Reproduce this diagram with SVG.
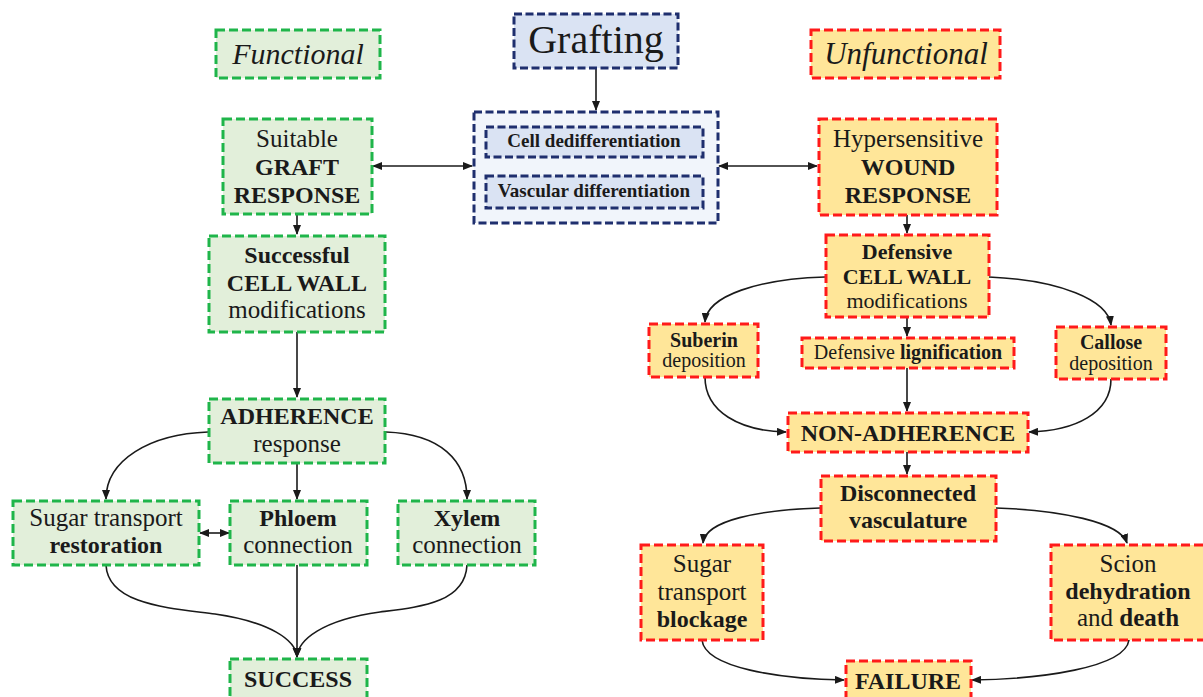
<svg xmlns="http://www.w3.org/2000/svg" width="1203" height="697" viewBox="0 0 1203 697">
<style>
text{font-family:"Liberation Serif","Times New Roman",serif;fill:#1a1a1a;text-anchor:middle}
.b{font-weight:bold}
.g{fill:#e2efda;stroke:#1fb54a;stroke-width:3;stroke-dasharray:9 4}
.r{fill:#ffe699;stroke:#ff1a1a;stroke-width:3;stroke-dasharray:9 4}
.n{fill:#dae3f3;stroke:#1f2f6e;stroke-width:3;stroke-dasharray:8 3.5}
.no{fill:#f1f5fb;stroke:#1f2f6e;stroke-width:3;stroke-dasharray:8 3.5}
.c{fill:none;stroke:#1a1a1a;stroke-width:1.6;marker-end:url(#ah)}
.d{marker-start:url(#ah)}
.t25{font-size:25px}
.t24{font-size:24px}
.t22{font-size:22px}
.t19{font-size:20px}
</style>
<defs>
<marker id="ah" markerUnits="userSpaceOnUse" markerWidth="10" markerHeight="8" refX="9" refY="4" orient="auto-start-reverse">
<path d="M0,0 L10,4 L0,8 Z" fill="#1a1a1a"/>
</marker>
</defs>
<rect width="1203" height="697" fill="#ffffff"/>

<g id="connectors">
<path class="c" d="M596,68 L596,110"/>
<path class="c" d="M596,157 L596,174"/>
<path class="c d" d="M373,166 L472,166"/>
<path class="c d" d="M719,166 L817,166"/>
<path class="c" d="M297,214 L297,234"/>
<path class="c" d="M297,332 L297,397"/>
<path class="c" d="M208,432 C150,434 106,460 106,499"/>
<path class="c" d="M386,432 C440,434 467,460 467,499"/>
<path class="c" d="M297,463 L297,499"/>
<path class="c d" d="M200,533 L229,533"/>
<path class="c" d="M106,565 C108,605 170,608 215,614 C270,622 296,640 297,657"/>
<path class="c" d="M297,565 L297,657"/>
<path class="c" d="M467,565 C465,603 420,607 380,612 C322,620 298,640 297,657"/>
<path class="c" d="M907,215 L907,233"/>
<path class="c" d="M825,277 C760,279 707,295 705,322"/>
<path class="c" d="M989,277 C1060,280 1108,300 1111,325"/>
<path class="c" d="M907,318 L907,336"/>
<path class="c" d="M907,368 L907,411"/>
<path class="c" d="M705,377 C705,412 740,431 786,432"/>
<path class="c" d="M1111,379 C1111,413 1075,431 1029,432"/>
<path class="c" d="M907,452 L907,474"/>
<path class="c" d="M820,508 C760,510 705,520 703,543"/>
<path class="c" d="M996,508 C1060,510 1120,522 1127,543"/>
<path class="c" d="M702,640 C705,668 780,679 844,680"/>
<path class="c" d="M1129,640 C1125,668 1040,679 972,680"/>
</g>

<g id="functional">
<rect class="g" x="216" y="30" width="164" height="48"/>
<text x="298" y="64" font-size="30" font-style="italic">Functional</text>
</g>
<g id="grafting">
<rect class="n" x="514" y="14" width="164" height="54"/>
<text x="596" y="53" font-size="40">Grafting</text>
</g>
<g id="unfunctional">
<rect class="r" x="811" y="30" width="189" height="48"/>
<text x="906" y="64" font-size="31" font-style="italic">Unfunctional</text>
</g>

<g id="graft-process">
<rect class="no" x="474" y="112" width="244" height="111"/>
<g id="cell-dediff">
<rect class="n" x="486" y="127" width="217" height="30"/>
<text class="b" x="594" y="147" font-size="19">Cell dedifferentiation</text>
</g>
<g id="vascular-diff">
<rect class="n" x="486" y="176" width="217" height="32"/>
<text class="b" x="594" y="197" font-size="19">Vascular differentiation</text>
</g>
</g>

<g id="graft-response">
<rect class="g" x="223" y="119" width="149" height="95"/>
<text class="t25" x="297" y="147">Suitable</text>
<text class="t24 b" x="297" y="175">GRAFT</text>
<text class="t24 b" x="297" y="203">RESPONSE</text>
</g>
<g id="wound-response">
<rect class="r" x="819" y="119" width="178" height="96"/>
<text class="t25" x="908" y="147">Hypersensitive</text>
<text class="t24 b" x="908" y="175">WOUND</text>
<text class="t24 b" x="908" y="203">RESPONSE</text>
</g>

<g id="successful-cw">
<rect class="g" x="209" y="236" width="176" height="96"/>
<text class="t24 b" x="297" y="263">Successful</text>
<text class="t24 b" x="297" y="291">CELL WALL</text>
<text class="t25" x="297" y="318">modifications</text>
</g>
<g id="adherence">
<rect class="g" x="209" y="399" width="176" height="64"/>
<text class="t24 b" x="297" y="424">ADHERENCE</text>
<text class="t25" x="297" y="452">response</text>
</g>
<g id="sugar-restoration">
<rect class="g" x="13" y="501" width="186" height="64"/>
<text class="t25" x="106" y="526">Sugar transport</text>
<text class="t24 b" x="106" y="553">restoration</text>
</g>
<g id="phloem">
<rect class="g" x="230" y="501" width="137" height="64"/>
<text class="t24 b" x="298" y="526">Phloem</text>
<text class="t25" x="298" y="553">connection</text>
</g>
<g id="xylem">
<rect class="g" x="398" y="501" width="137" height="64"/>
<text class="t24 b" x="467" y="526">Xylem</text>
<text class="t25" x="467" y="553">connection</text>
</g>
<g id="success">
<rect class="g" x="230" y="659" width="137" height="44"/>
<text class="t24 b" x="298" y="687">SUCCESS</text>
</g>

<g id="defensive-cw">
<rect class="r" x="826" y="235" width="163" height="82"/>
<text class="t22 b" x="907" y="259">Defensive</text>
<text class="t22 b" x="907" y="284">CELL WALL</text>
<text class="t22" x="907" y="308">modifications</text>
</g>
<g id="suberin">
<rect class="r" x="649" y="324" width="109" height="53"/>
<text class="t19 b" x="704" y="347">Suberin</text>
<text class="t19" x="704" y="367">deposition</text>
</g>
<g id="lignification">
<rect class="r" x="802" y="338" width="212" height="30"/>
<text class="t19" x="908" y="359">Defensive <tspan class="b">lignification</tspan></text>
</g>
<g id="callose">
<rect class="r" x="1056" y="327" width="110" height="52"/>
<text class="t19 b" x="1111" y="349">Callose</text>
<text class="t19" x="1111" y="370">deposition</text>
</g>
<g id="non-adherence">
<rect class="r" x="788" y="413" width="240" height="39"/>
<text class="t24 b" x="908" y="441">NON-ADHERENCE</text>
</g>
<g id="disconnected">
<rect class="r" x="821" y="476" width="175" height="65"/>
<text class="t24 b" x="908" y="501">Disconnected</text>
<text class="t24 b" x="908" y="528">vasculature</text>
</g>
<g id="sugar-blockage">
<rect class="r" x="641" y="545" width="122" height="95"/>
<text class="t25" x="702" y="572">Sugar</text>
<text class="t25" x="702" y="600">transport</text>
<text class="t24 b" x="702" y="627">blockage</text>
</g>
<g id="scion">
<rect class="r" x="1051" y="545" width="160" height="95"/>
<text class="t25" x="1128" y="572">Scion</text>
<text class="t24 b" x="1128" y="599">dehydration</text>
<text class="t25" x="1128" y="626">and <tspan class="b">death</tspan></text>
</g>
<g id="failure">
<rect class="r" x="846" y="661" width="125" height="44"/>
<text class="t24 b" x="908" y="689">FAILURE</text>
</g>
</svg>
